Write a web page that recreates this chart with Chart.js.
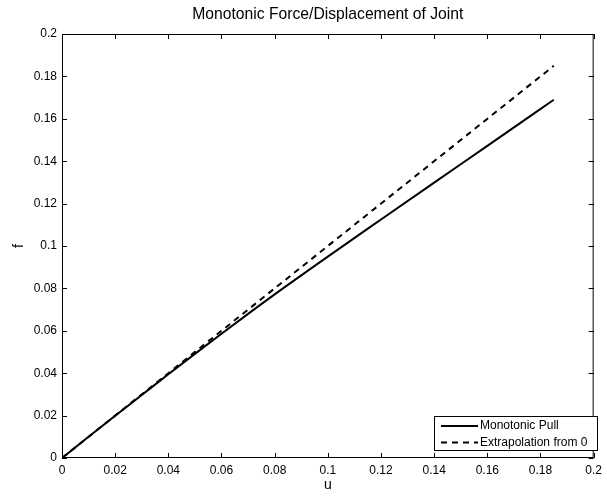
<!DOCTYPE html>
<html lang="en">
<head>
    <meta charset="UTF-8">
    <title>Monotonic Force/Displacement of Joint</title>
    <style>
        html, body { margin: 0; padding: 0; background: #fff; }
        #wrap { width: 607px; height: 496px; }
    </style>
</head>
<body>
    <div id="wrap"><canvas id="chart" width="607" height="496"></canvas></div>

    <script src="https://cdn.jsdelivr.net/npm/chart.js"></script>
    <script>
        // displacement samples and forces
        const uPull = [0, 0.01, 0.02, 0.03, 0.04, 0.05, 0.06, 0.07, 0.08, 0.10, 0.12, 0.14, 0.16, 0.185];
        const fPull = [0, 0.0100, 0.0199, 0.0297, 0.0395, 0.0491, 0.0586, 0.0680, 0.0772, 0.0950, 0.1125, 0.1299, 0.1472, 0.1690];
        const uExtrap = [0, 0.185];
        const fExtrap = [0, 0.185];
        const tickValues = [0, 0.02, 0.04, 0.06, 0.08, 0.1, 0.12, 0.14, 0.16, 0.18, 0.2];

        const FONT = 'Liberation Sans, Arial, Helvetica, sans-serif';
        const toPoints = (xs, ys) => xs.map((x, i) => ({ x: x, y: ys[i] }));
        const fmt = v => Number(v.toFixed(2)).toString();

        // box, inward ticks on all four sides, title and legend in the MATLAB style
        const matlabFrame = {
            id: 'matlabFrame',
            afterDraw(chart) {
                const { ctx, chartArea: a, scales } = chart;
                ctx.save();
                ctx.strokeStyle = '#000';
                ctx.lineWidth = 1;
                ctx.strokeRect(a.left + 0.5, a.top + 0.5, a.right - a.left - 1, a.bottom - a.top - 1);
                const len = 5;
                ctx.beginPath();
                tickValues.forEach(v => {
                    const px = Math.round(scales.x.getPixelForValue(v)) + 0.5;
                    ctx.moveTo(px, a.bottom); ctx.lineTo(px, a.bottom - len);
                    ctx.moveTo(px, a.top); ctx.lineTo(px, a.top + len);
                    const py = Math.round(scales.y.getPixelForValue(v)) + 0.5;
                    ctx.moveTo(a.left, py); ctx.lineTo(a.left + len, py);
                    ctx.moveTo(a.right, py); ctx.lineTo(a.right - len, py);
                });
                ctx.stroke();

                // title
                ctx.fillStyle = '#000';
                ctx.font = '15.7px ' + FONT;
                ctx.textAlign = 'center';
                ctx.textBaseline = 'middle';
                ctx.fillText('Monotonic Force/Displacement of Joint', (a.left + a.right) / 2, 15);

                // legend box
                const bx = 434, by = 416, bw = 163, bh = 34;
                ctx.fillStyle = '#fff';
                ctx.fillRect(bx, by, bw, bh);
                ctx.strokeRect(bx + 0.5, by + 0.5, bw, bh);
                ctx.font = '12px ' + FONT;
                ctx.textAlign = 'left';
                chart.data.datasets.forEach((ds, i) => {
                    const y = by + 10 + i * 16.5;
                    ctx.beginPath();
                    ctx.lineWidth = 2;
                    ctx.setLineDash(ds.borderDash || []);
                    ctx.moveTo(bx + 7, y); ctx.lineTo(bx + 44, y);
                    ctx.stroke();
                    ctx.setLineDash([]);
                    ctx.fillStyle = '#000';
                    ctx.fillText(ds.label, bx + 46, y);
                });
                ctx.restore();
            }
        };

        const ctx = document.getElementById('chart').getContext('2d');
        new Chart(ctx, {
            type: 'line',
            data: {
                datasets: [{
                    label: 'Monotonic Pull',
                    data: toPoints(uPull, fPull),
                    borderColor: '#000',
                    borderWidth: 2,
                    pointRadius: 0,
                    cubicInterpolationMode: 'monotone'
                }, {
                    label: 'Extrapolation from 0',
                    data: toPoints(uExtrap, fExtrap),
                    borderColor: '#000',
                    borderWidth: 2,
                    borderDash: [6, 5],
                    pointRadius: 0,
                    tension: 0
                }]
            },
            options: {
                responsive: false,
                animation: false,
                layout: { padding: { top: 34, right: 9, left: 0, bottom: 0 } },
                plugins: {
                    legend: { display: false },
                    title: { display: false },
                    tooltip: { enabled: false }
                },
                scales: {
                    x: {
                        type: 'linear',
                        min: 0, max: 0.2,
                        afterBuildTicks: s => { s.ticks = tickValues.map(v => ({ value: v })); },
                        afterFit: s => { s.height = 38; },
                        grid: { display: false, drawTicks: false },
                        border: { display: false },
                        ticks: { color: '#000', padding: 5, font: { family: FONT, size: 12 }, callback: fmt, maxRotation: 0 },
                        title: { display: true, text: 'u', color: '#000', font: { family: FONT, size: 14 }, padding: { top: 0, bottom: 2 } }
                    },
                    y: {
                        type: 'linear',
                        min: 0, max: 0.2,
                        afterBuildTicks: s => { s.ticks = tickValues.map(v => ({ value: v })); },
                        afterFit: s => { s.width = 62; },
                        grid: { display: false, drawTicks: false },
                        border: { display: false },
                        ticks: { color: '#000', padding: 5, font: { family: FONT, size: 12 }, callback: fmt },
                        title: { display: true, text: 'f', color: '#000', font: { family: FONT, size: 14 }, padding: { top: 11, bottom: 0 } }
                    }
                }
            },
            plugins: [matlabFrame]
        });
    </script>
</body>
</html>
